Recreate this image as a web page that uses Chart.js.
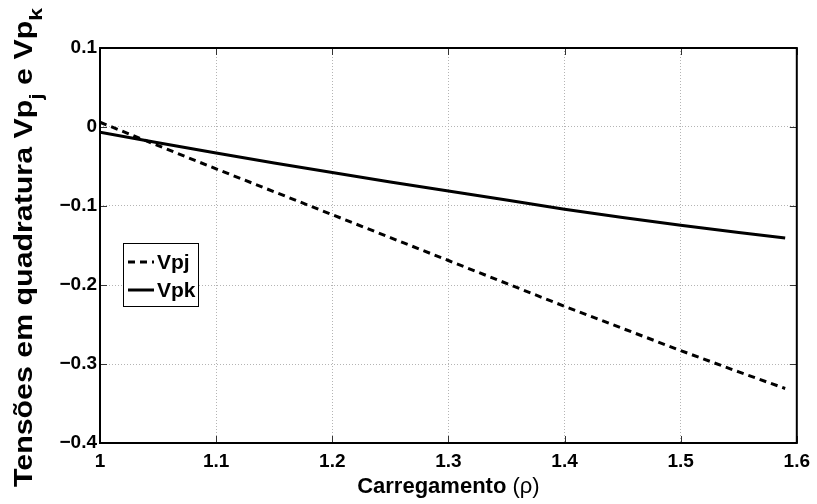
<!DOCTYPE html>
<html>
<head>
<meta charset="utf-8">
<script src="https://cdn.jsdelivr.net/npm/chart.js@4.4.0/dist/chart.umd.min.js"></script>
<style>
  html, body { margin: 0; padding: 0; background: #fff; }
  #wrap { width: 817px; height: 504px; position: relative; }
</style>
</head>
<body>
<div id="wrap"><canvas id="grafico"></canvas></div>
<script>
// dados
const carregamento = [1.0, 1.05, 1.1, 1.15, 1.2, 1.25, 1.3, 1.35, 1.4, 1.45, 1.5, 1.55, 1.59];
const vpj = [0.006, -0.0235, -0.053, -0.082, -0.111, -0.140, -0.169, -0.198, -0.227, -0.255, -0.283, -0.310, -0.331];
const vpk = [-0.0065, -0.020, -0.033, -0.0455, -0.0575, -0.0695, -0.081, -0.0925, -0.104, -0.1145, -0.1245, -0.1335, -0.1405];

const xTicks = [1, 1.1, 1.2, 1.3, 1.4, 1.5, 1.6];
const xTickLabels = ['1', '1.1', '1.2', '1.3', '1.4', '1.5', '1.6'];
const yTicks = [-0.4, -0.3, -0.2, -0.1, 0, 0.1];
const yTickLabels = ['\u22120.4', '\u22120.3', '\u22120.2', '\u22120.1', '0', '0.1'];

const FONTE = '"Liberation Sans", Arial, sans-serif';

function pontos(ys) {
    return carregamento.map((x, i) => ({ x: x, y: ys[i] }));
}

// moldura, ticks internos, legenda e títulos
const extras = {
    id: 'extras',
    afterDatasetsDraw(chart) {
        const ctx = chart.ctx;
        const a = chart.chartArea;
        const sx = chart.scales.x, sy = chart.scales.y;

        // ticks para dentro (estilo matlab)
        ctx.save();
        ctx.strokeStyle = '#333';
        ctx.lineWidth = 1;
        const tl = 7;
        xTicks.forEach(v => {
            const px = Math.round(sx.getPixelForValue(v)) + 0.5;
            ctx.beginPath();
            ctx.moveTo(px, a.bottom); ctx.lineTo(px, a.bottom - tl);
            ctx.moveTo(px, a.top); ctx.lineTo(px, a.top + tl);
            ctx.stroke();
        });
        yTicks.forEach(v => {
            const py = Math.round(sy.getPixelForValue(v)) + 0.5;
            ctx.beginPath();
            ctx.moveTo(a.left, py); ctx.lineTo(a.left + tl, py);
            ctx.moveTo(a.right, py); ctx.lineTo(a.right - tl, py);
            ctx.stroke();
        });

        // caixa
        ctx.strokeStyle = '#000';
        ctx.lineWidth = 2;
        ctx.strokeRect(a.left, a.top, a.right - a.left, a.bottom - a.top);

        // legenda
        const lx = 123, ly = 243, lw = 75, lh = 63;
        ctx.fillStyle = '#fff';
        ctx.fillRect(lx, ly, lw, lh);
        ctx.lineWidth = 1;
        ctx.strokeRect(lx + 0.5, ly + 0.5, lw, lh);
        const linhas = [262, 290];
        chart.data.datasets.forEach((ds, i) => {
            const y = linhas[i];
            ctx.beginPath();
            ctx.setLineDash(ds.borderDash || []);
            ctx.lineWidth = ds.borderWidth;
            ctx.strokeStyle = ds.borderColor;
            ctx.moveTo(128, y); ctx.lineTo(154, y);
            ctx.stroke();
            ctx.setLineDash([]);
            ctx.fillStyle = '#000';
            ctx.font = 'bold 21px ' + FONTE;
            ctx.textBaseline = 'middle';
            ctx.textAlign = 'left';
            ctx.fillText(ds.label, 157, y + 1);
        });

        // título eixo x
        const p1 = 'Carregamento ', p2 = '(\u03c1)';
        ctx.font = 'bold 22px ' + FONTE;
        const w1 = ctx.measureText(p1).width;
        ctx.font = '22px ' + FONTE;
        const w2 = ctx.measureText(p2).width;
        let x0 = (a.left + a.right) / 2 - (w1 + w2) / 2;
        ctx.textBaseline = 'alphabetic';
        ctx.font = 'bold 22px ' + FONTE;
        ctx.fillText(p1, x0, 493);
        ctx.font = '22px ' + FONTE;
        ctx.fillText(p2, x0 + w1, 493);

        // título eixo y com subscritos
        const partes = [
            { t: 'Tens\u00f5es em quadratura Vp', sub: false },
            { t: 'j', sub: true },
            { t: ' e Vp', sub: false },
            { t: 'k', sub: true }
        ];
        const fN = 'bold 25px ' + FONTE, fS = 'bold 19px ' + FONTE;
        let total = 0;
        partes.forEach(p => {
            ctx.font = p.sub ? fS : fN;
            p.w = ctx.measureText(p.t).width;
            total += p.w;
        });
        const escala = (487 - 8) / total;
        ctx.translate(32, 487);
        ctx.rotate(-Math.PI / 2);
        ctx.scale(escala, 1);
        let pos = 0;
        partes.forEach(p => {
            ctx.font = p.sub ? fS : fN;
            ctx.fillText(p.t, pos, p.sub ? 10 : 0);
            pos += p.w;
        });
        ctx.restore();
    }
};

const ctx = document.getElementById('grafico').getContext('2d');
new Chart(ctx, {
    type: 'line',
    data: {
        datasets: [
            { label: 'Vpj', data: pontos(vpj), borderColor: '#000', borderWidth: 3, borderDash: [7, 5], pointRadius: 0, fill: false },
            { label: 'Vpk', data: pontos(vpk), borderColor: '#000', borderWidth: 3, pointRadius: 0, fill: false }
        ]
    },
    options: {
        responsive: true,
        maintainAspectRatio: false,
        animation: false,
        devicePixelRatio: 1,
        layout: { padding: { top: 48, right: 19, left: 0, bottom: 0 } },
        plugins: { legend: { display: false }, tooltip: { enabled: false } },
        scales: {
            x: {
                type: 'linear',
                min: 1, max: 1.6,
                afterBuildTicks: s => { s.ticks = xTicks.map(v => ({ value: v })); },
                afterFit: s => { s.height = 61; },
                ticks: {
                    color: '#000',
                    font: { family: FONTE, size: 19, weight: 'bold' },
                    padding: 7,
                    maxRotation: 0,
                    autoSkip: false,
                    callback: (v, i) => xTickLabels[i]
                },
                grid: { color: '#b4b4b4', lineWidth: 1, drawTicks: false },
                border: { display: false, dash: [1, 2] }
            },
            y: {
                type: 'linear',
                min: -0.4, max: 0.1,
                afterBuildTicks: s => { s.ticks = yTicks.map(v => ({ value: v })); },
                afterFit: s => { s.width = 100; },
                ticks: {
                    color: '#000',
                    font: { family: FONTE, size: 19, weight: 'bold' },
                    padding: 3,
                    autoSkip: false,
                    callback: (v, i) => yTickLabels[i]
                },
                grid: { color: '#b4b4b4', lineWidth: 1, drawTicks: false },
                border: { display: false, dash: [1, 2] }
            }
        }
    },
    plugins: [extras]
});
</script>
</body>
</html>
